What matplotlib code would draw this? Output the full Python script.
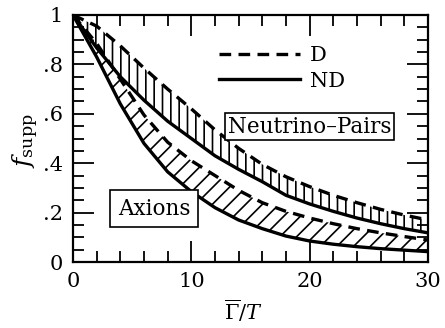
import numpy as np
import matplotlib
matplotlib.use("Agg")
import matplotlib.pyplot as plt
from matplotlib.ticker import MultipleLocator, FixedLocator, FixedFormatter
from matplotlib.lines import Line2D

# ---- data ----
gamma_over_T = [0, 2, 4, 6, 8, 10, 12, 14, 16, 18, 20, 22, 24, 26, 28, 30]
nu_pairs_D = [1.0, 0.955, 0.875, 0.785, 0.70, 0.62, 0.535, 0.46, 0.395, 0.345,
              0.305, 0.27, 0.24, 0.213, 0.19, 0.17]
nu_pairs_ND = [1.0, 0.867, 0.75, 0.655, 0.57, 0.50, 0.43, 0.375, 0.325, 0.27,
               0.235, 0.205, 0.178, 0.155, 0.135, 0.118]
axions_D = [1.0, 0.885, 0.74, 0.595, 0.485, 0.41, 0.35, 0.29, 0.24, 0.205,
            0.178, 0.155, 0.135, 0.118, 0.103, 0.089]
axions_ND = [1.0, 0.83, 0.64, 0.48, 0.365, 0.285, 0.22, 0.17, 0.135, 0.105,
             0.085, 0.072, 0.062, 0.054, 0.048, 0.042]

x_ticks = [0, 10, 20, 30]
x_ticklabels = ["0", "10", "20", "30"]
y_ticks = [0, 0.2, 0.4, 0.6, 0.8, 1.0]
y_ticklabels = ["0", ".2", ".4", ".6", ".8", "1"]
legend_labels = ["D", "ND"]
box_labels = ["Neutrino\u2013Pairs", "Axions"]

plt.rcParams["font.family"] = ["DejaVu Serif"]
plt.rcParams["mathtext.fontset"] = "dejavuserif"
plt.rcParams["hatch.linewidth"] = 1.2
plt.rcParams["hatch.color"] = "black"

fig = plt.figure(figsize=(4.45, 3.28), dpi=100)
ax = fig.add_axes([73 / 445, 66 / 328, 355 / 445, 247 / 328])

x = np.array(gamma_over_T)
lw = 2.4
dash = (0, (3.5, 2.2))

# hatched bands
ax.fill_between(x, nu_pairs_ND, nu_pairs_D, facecolor="none", edgecolor="black",
                hatch="||", linewidth=0)
ax.fill_between(x, axions_ND, axions_D, facecolor="none", edgecolor="black",
                hatch="//", linewidth=0)

ax.plot(x, nu_pairs_D, color="black", lw=lw, linestyle=dash)
ax.plot(x, nu_pairs_ND, color="black", lw=lw)
ax.plot(x, axions_D, color="black", lw=lw, linestyle=dash)
ax.plot(x, axions_ND, color="black", lw=lw)

ax.set_xlim(0, 30)
ax.set_ylim(0, 1)

ax.xaxis.set_major_locator(FixedLocator(x_ticks))
ax.xaxis.set_major_formatter(FixedFormatter(x_ticklabels))
ax.xaxis.set_minor_locator(MultipleLocator(2))
ax.yaxis.set_major_locator(FixedLocator(y_ticks))
ax.yaxis.set_major_formatter(FixedFormatter(y_ticklabels))
ax.yaxis.set_minor_locator(MultipleLocator(0.05))

ax.tick_params(which="both", direction="in", top=True, right=True, width=1.3,
               labelsize=15)
ax.tick_params(which="major", length=15)
ax.tick_params(which="minor", length=8)
ax.tick_params(axis="x", pad=7)
ax.tick_params(axis="y", pad=7)
for s in ax.spines.values():
    s.set_linewidth(1.6)

ax.set_xlabel(r"$\overline{\Gamma}/T$", fontsize=15)
ax.xaxis.set_label_coords(0.48, -0.145)
ax.set_ylabel(r"$f_{\rm supp}$", fontsize=18)
ax.yaxis.set_label_coords(-0.09, 0.49)

handles = [Line2D([], [], color="black", lw=lw, linestyle=dash),
           Line2D([], [], color="black", lw=lw)]
ax.legend(handles, legend_labels, loc="upper left",
          bbox_to_anchor=(0.41, 0.875), frameon=False, fontsize=15,
          handlelength=3.9, handletextpad=0.5, labelspacing=0.32,
          borderpad=0, borderaxespad=0)

ax.text(20.0, 0.547, box_labels[0], fontsize=15.5, ha="center", va="center",
        bbox=dict(boxstyle="square,pad=0.12", fc="white", ec="black", lw=1.2))
ax.text(6.85, 0.215, box_labels[1], fontsize=15.5, ha="center", va="center",
        bbox=dict(boxstyle="square,pad=0.35", fc="white", ec="black", lw=1.2))

fig.savefig("out.png", dpi=100)
